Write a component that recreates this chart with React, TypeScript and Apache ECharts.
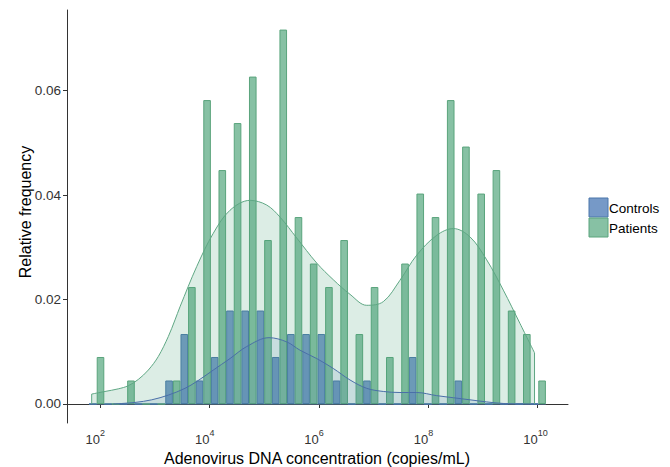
import React, { useEffect, useRef } from 'react';
import * as echarts from 'echarts';

// log10(copies/mL) bin centres of the dodged histogram
const binCenters = [
  1.940, 2.218, 2.497, 2.775, 3.053, 3.332, 3.610, 3.888, 4.166, 4.445,
  4.723, 5.001, 5.280, 5.558, 5.836, 6.115, 6.393, 6.671, 6.949, 7.228,
  7.506, 7.784, 8.063, 8.341, 8.619, 8.898, 9.176, 9.454, 9.732, 10.011,
];
const controlsFreq = [
  0, 0, 0, 0, 0, 0.0045, 0.0134, 0.0045, 0.0090, 0.0179,
  0.0179, 0.0179, 0.0090, 0.0134, 0.0134, 0.0134, 0.0045, 0, 0.0045, 0,
  0, 0.0090, 0, 0, 0.0045, 0, 0, 0, 0, 0,
];
const patientsFreq = [
  0.0090, 0, 0.0045, 0, 0, 0.0045, 0.0224, 0.0582, 0.0448, 0.0538,
  0.0627, 0.0314, 0.0717, 0.0358, 0.0269, 0.0224, 0.0314, 0.0134, 0.0224, 0.0090,
  0.0269, 0.0403, 0.0358, 0.0582, 0.0493, 0.0403, 0.0448, 0.0179, 0.0134, 0.0045,
];
// histogram outline along zero (first bin left edge, last bin right edge)
const histBaseline = [1.80, 10.15];

// density curves (log10 x, density)
const patientsDensX = [
  1.848, 2.091, 2.334, 2.517, 2.700, 2.883, 3.066, 3.248, 3.371, 3.462,
  3.767, 4.071, 4.376, 4.742, 5.047, 5.290, 5.595, 5.961, 6.264, 6.570,
  6.875, 7.178, 7.483, 7.789, 8.154, 8.458, 8.763, 9.068, 9.372, 9.677, 9.942,
];
const patientsDensY = [
  0.0019, 0.0024, 0.0029, 0.0035, 0.0047, 0.0065, 0.0091, 0.0129, 0.0161, 0.0186,
  0.0263, 0.0327, 0.0371, 0.0390, 0.0381, 0.0358, 0.0318, 0.0270, 0.0238, 0.0210,
  0.0189, 0.0196, 0.0237, 0.0285, 0.0323, 0.0336, 0.0320, 0.0276, 0.0218, 0.0154, 0.0098,
];
const controlsDensX = [
  2.243, 2.640, 2.945, 3.248, 3.554, 3.767, 4.071, 4.376, 4.681, 5.089,
  5.412, 5.656, 5.961, 6.264, 6.570, 6.875, 7.178, 7.483, 7.789, 8.154,
  8.458, 8.763, 9.068, 9.372, 9.990,
];
const controlsDensY = [
  0.0000, 0.0003, 0.0008, 0.0017, 0.0030, 0.0043, 0.0065, 0.0087, 0.0110, 0.0127,
  0.0119, 0.0103, 0.0087, 0.0068, 0.0046, 0.0030, 0.0024, 0.0022, 0.0022, 0.0016,
  0.0012, 0.0008, 0.0004, 0.0001, 0.0000,
];

const xTickExponents = [2, 4, 6, 8, 10];
const yTicks = [0, 0.02, 0.04, 0.06];
const groupNames = ['Controls', 'Patients'];

const FONT = '"Liberation Sans", Arial, Helvetica, sans-serif';
const blueFill = 'rgba(60,110,175,0.7)';
const blueBorder = '#4b77ab';
const greenFill = 'rgba(70,160,115,0.65)';
const greenBorder = '#5aa47c';
const X_MIN = 1.397;
const X_MAX = 10.554;

export default function App() {
  const ref = useRef<HTMLDivElement>(null);

  useEffect(() => {
    document.body.style.margin = '0';
    const chart = echarts.init(ref.current!, null, { renderer: 'svg' });

    const pDens = patientsDensX.map((x, i) => [x, patientsDensY[i]]);
    const cDens = controlsDensX.map((x, i) => [x, controlsDensY[i]]);
    const pFirst = pDens[0];
    const pLast = pDens[pDens.length - 1];

    const option: any = {
      animation: false,
      grid: { left: 67, right: 102, top: 10, bottom: 44, containLabel: false },
      xAxis: [
        {
          type: 'value',
          min: X_MIN,
          max: X_MAX,
          position: 'bottom',
          splitLine: { show: false },
          axisLine: { show: true, lineStyle: { color: '#333', width: 1 } },
          axisTick: { show: true, length: 4, customValues: xTickExponents, lineStyle: { color: '#333' } },
          axisLabel: {
            customValues: xTickExponents,
            margin: 10,
            align: 'right',
            fontSize: 13,
            color: '#333',
            fontFamily: FONT,
            formatter: () => '10',
          },
        },
        {
          type: 'value',
          min: X_MIN,
          max: X_MAX,
          position: 'bottom',
          splitLine: { show: false },
          axisLine: { show: false },
          axisTick: { show: false },
          axisLabel: {
            customValues: xTickExponents,
            margin: 5,
            align: 'left',
            fontSize: 9,
            color: '#333',
            fontFamily: FONT,
            formatter: (v: number) => String(v),
          },
        },
      ],
      yAxis: {
        type: 'value',
        min: -0.00364,
        max: 0.07545,
        splitLine: { show: false },
        axisLine: { show: true, lineStyle: { color: '#333', width: 1 } },
        axisTick: { show: true, length: 4, customValues: yTicks, lineStyle: { color: '#333' } },
        axisLabel: {
          customValues: yTicks,
          margin: 6,
          fontSize: 13.5,
          color: '#333',
          fontFamily: FONT,
          formatter: (v: number) => v.toFixed(2),
        },
      },
      series: [
        {
          name: 'baseline',
          type: 'line',
          symbol: 'none',
          z: 1,
          lineStyle: { color: '#5a86ac', width: 1 },
          data: histBaseline.map((x) => [x, 0]),
        },
        {
          name: groupNames[0],
          type: 'bar',
          barWidth: 7.6,
          barGap: '0%',
          z: 2,
          itemStyle: { color: blueFill, borderColor: blueBorder, borderWidth: 1 },
          data: binCenters.map((x, i) => [x, controlsFreq[i]]),
        },
        {
          name: groupNames[1],
          type: 'bar',
          barWidth: 7.6,
          barGap: '0%',
          z: 2,
          itemStyle: { color: greenFill, borderColor: greenBorder, borderWidth: 1 },
          data: binCenters.map((x, i) => [x, patientsFreq[i]]),
        },
        {
          name: 'Patients density',
          type: 'line',
          smooth: 0.35,
          symbol: 'none',
          z: 3,
          lineStyle: { color: '#5fa784', width: 1 },
          areaStyle: { color: 'rgba(70,160,115,0.27)', origin: 0 },
          data: pDens,
        },
        {
          name: 'Controls density',
          type: 'line',
          smooth: 0.35,
          symbol: 'none',
          z: 4,
          lineStyle: { color: '#4a6fa8', width: 1 },
          areaStyle: { color: 'rgba(60,110,175,0.18)', origin: 0 },
          data: cDens,
        },
        {
          name: 'Patients density start',
          type: 'line',
          symbol: 'none',
          z: 4,
          lineStyle: { color: '#5fa784', width: 1 },
          data: [[pFirst[0], 0], pFirst],
        },
        {
          name: 'Patients density end',
          type: 'line',
          symbol: 'none',
          z: 4,
          lineStyle: { color: '#5fa784', width: 1 },
          data: [pLast, [pLast[0], 0]],
        },
      ],
      graphic: [
        { type: 'rect', shape: { x: 589, y: 198, width: 19, height: 19 }, style: { fill: blueFill, stroke: blueBorder, lineWidth: 1 } },
        { type: 'rect', shape: { x: 589, y: 218, width: 19, height: 19 }, style: { fill: greenFill, stroke: greenBorder, lineWidth: 1 } },
        { type: 'text', x: 609, y: 208, style: { text: groupNames[0], fontSize: 13.5, fontFamily: FONT, fill: '#000', textVerticalAlign: 'middle' } },
        { type: 'text', x: 609, y: 228, style: { text: groupNames[1], fontSize: 13.5, fontFamily: FONT, fill: '#000', textVerticalAlign: 'middle' } },
        { type: 'text', x: 317, y: 458, style: { text: 'Adenovirus DNA concentration (copies/mL)', fontSize: 16, fontFamily: FONT, fill: '#000', textAlign: 'center', textVerticalAlign: 'middle' } },
        { type: 'text', x: 25, y: 212, rotation: Math.PI / 2, style: { text: 'Relative frequency', fontSize: 16, fontFamily: FONT, fill: '#000', textAlign: 'center', textVerticalAlign: 'middle' } },
      ],
    };

    chart.setOption(option);
    return () => chart.dispose();
  }, []);

  return <div ref={ref} style={{ width: 670, height: 467 }} />;
}
